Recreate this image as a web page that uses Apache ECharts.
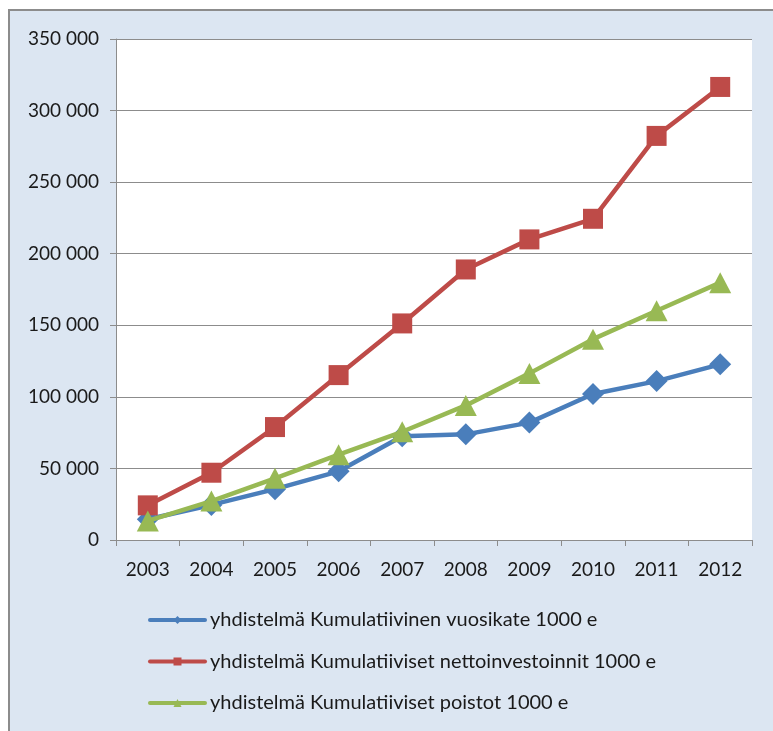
<!DOCTYPE html>
<html>
<head>
<meta charset="utf-8">
<script src="https://cdn.jsdelivr.net/npm/echarts@6/dist/echarts.min.js"></script>
<style>
  html, body { margin: 0; padding: 0; background: #ffffff; }
  #wrap { position: absolute; left: 8px; top: 9px; width: 765px; height: 722px;
          border-left: 2px solid #8c8c8c; border-top: 2px solid #8c8c8c; background: #dce6f2; }
  #chart { width: 763px; height: 720px; }
</style>
</head>
<body>
<div id="wrap"><div id="chart"></div></div>
<script>
const years = ['2003','2004','2005','2006','2007','2008','2009','2010','2011','2012'];
const vuosikate = [14500, 24500, 35500, 48000, 72500, 73800, 82000, 102000, 111000, 122700];
const nettoinvestoinnit = [24200, 47000, 78900, 115200, 151300, 189000, 210000, 224400, 282300, 316500];
const poistot = [13300, 27200, 43100, 59600, 75600, 94000, 116400, 140300, 160200, 179800];
const seriesNames = [
  'yhdistelmä Kumulatiivinen vuosikate 1000 e',
  'yhdistelmä Kumulatiiviset nettoinvestoinnit 1000 e',
  'yhdistelmä Kumulatiiviset poistot 1000 e'
];
const yTicks = { min: 0, max: 350000, interval: 50000 };

const font = 'Lato';
const fmt = v => String(v).replace(/\B(?=(\d{3})+(?!\d))/g, ' ');

const chart = echarts.init(document.getElementById('chart'));
chart.setOption({
  backgroundColor: 'transparent',
  animation: false,
  textStyle: { fontFamily: font },
  grid: { left: 106, top: 28, right: 21, bottom: 191, show: true, backgroundColor: '#ffffff', borderWidth: 0, containLabel: false },
  xAxis: {
    type: 'category', data: years, boundaryGap: true,
    axisLine: { lineStyle: { color: '#8c8c8c', width: 1 } },
    axisTick: { show: true, length: 6, lineStyle: { color: '#8c8c8c' } },
    axisLabel: { color: '#1a1a1a', fontSize: 19, fontFamily: font, margin: 20 },
    splitLine: { show: false }
  },
  yAxis: {
    type: 'value', min: yTicks.min, max: yTicks.max, interval: yTicks.interval,
    axisLine: { show: true, lineStyle: { color: '#8c8c8c', width: 1 } },
    axisTick: { show: true, length: 6, lineStyle: { color: '#8c8c8c' } },
    axisLabel: { color: '#1a1a1a', fontSize: 19, fontFamily: font, margin: 17, formatter: fmt },
    splitLine: { show: true, lineStyle: { color: '#8c8c8c', width: 1 } }
  },
  legend: {
    orient: 'vertical', left: 133, top: 594,
    itemWidth: 55, itemHeight: 10, itemGap: 21.5,
    lineStyle: { width: 4, cap: 'round' },
    textStyle: { color: '#1a1a1a', fontSize: 20, fontFamily: font },
    data: seriesNames
  },
  series: [
    { name: seriesNames[0], type: 'line', data: vuosikate, symbol: 'diamond', symbolSize: 22,
      lineStyle: { width: 4.5, color: '#4a7ebb' }, itemStyle: { color: '#4a7ebb' }, z: 2 },
    { name: seriesNames[1], type: 'line', data: nettoinvestoinnit, symbol: 'rect', symbolSize: 20,
      lineStyle: { width: 4.5, color: '#be4b48' }, itemStyle: { color: '#be4b48' }, z: 3 },
    { name: seriesNames[2], type: 'line', data: poistot, symbol: 'triangle', symbolSize: [22, 21],
      lineStyle: { width: 4.5, color: '#98b954' }, itemStyle: { color: '#98b954' }, z: 4 }
  ]
});
</script>
</body>
</html>
